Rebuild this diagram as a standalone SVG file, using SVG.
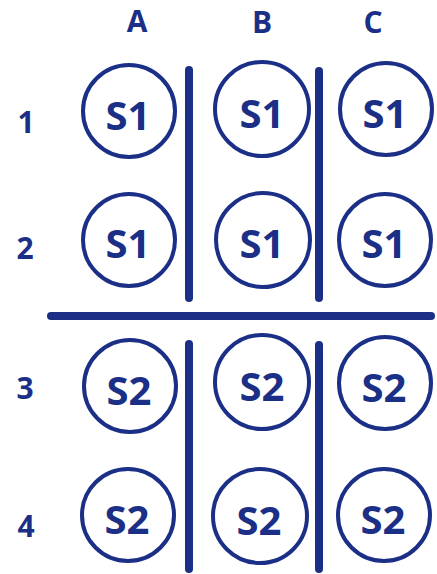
<svg xmlns="http://www.w3.org/2000/svg" width="437" height="574" viewBox="0 0 437 574">
<style>
.c{fill:none;stroke:#1b2f87;stroke-width:4}
.t{fill:#1b2f87;font-family:"Open Sans","Noto Sans",sans-serif;font-weight:700;text-anchor:middle}
.s{font-size:40px}
.h{font-size:30px}
.l{stroke:#1b2f87;stroke-width:8;stroke-linecap:round;fill:none}
</style>
<rect width="437" height="574" fill="#fff"/>
<g id="headers">
<text class="t h" x="137" y="32">A</text>
<text class="t h" x="262" y="33">B</text>
<text class="t h" x="373" y="33">C</text>
<text class="t h" x="26" y="133">1</text>
<text class="t h" x="25" y="259">2</text>
<text class="t h" x="25" y="399">3</text>
<text class="t h" x="26" y="537">4</text>
</g>
<g id="connectors">
<line class="l" x1="189" y1="70" x2="189" y2="298"/>
<line class="l" x1="319" y1="71" x2="319" y2="298"/>
<line class="l" x1="51" y1="316" x2="431" y2="316"/>
<line class="l" x1="189" y1="344" x2="189" y2="569"/>
<line class="l" x1="319" y1="345" x2="319" y2="569"/>
</g>
<g id="A1"><circle class="c" cx="129" cy="111" r="46"/><text class="t s" x="128" y="130">S1</text></g>
<g id="B1"><circle class="c" cx="262" cy="109" r="47"/><text class="t s" x="262" y="128">S1</text></g>
<g id="C1"><circle class="c" cx="386" cy="109" r="46"/><text class="t s" x="385" y="128">S1</text></g>
<g id="A2"><circle class="c" cx="129" cy="240" r="46"/><text class="t s" x="128" y="258">S1</text></g>
<g id="B2"><circle class="c" cx="263" cy="240" r="47"/><text class="t s" x="262" y="258">S1</text></g>
<g id="C2"><circle class="c" cx="385" cy="240" r="46"/><text class="t s" x="384" y="258">S1</text></g>
<g id="A3"><circle class="c" cx="130" cy="386" r="46"/><text class="t s" x="129" y="405">S2</text></g>
<g id="B3"><circle class="c" cx="262" cy="382" r="47"/><text class="t s" x="262" y="401">S2</text></g>
<g id="C3"><circle class="c" cx="385" cy="383" r="46"/><text class="t s" x="384" y="402">S2</text></g>
<g id="A4"><circle class="c" cx="128" cy="515" r="46"/><text class="t s" x="127" y="534">S2</text></g>
<g id="B4"><circle class="c" cx="260" cy="516" r="47"/><text class="t s" x="259" y="535">S2</text></g>
<g id="C4"><circle class="c" cx="384" cy="515" r="46"/><text class="t s" x="383" y="534">S2</text></g>
</svg>
